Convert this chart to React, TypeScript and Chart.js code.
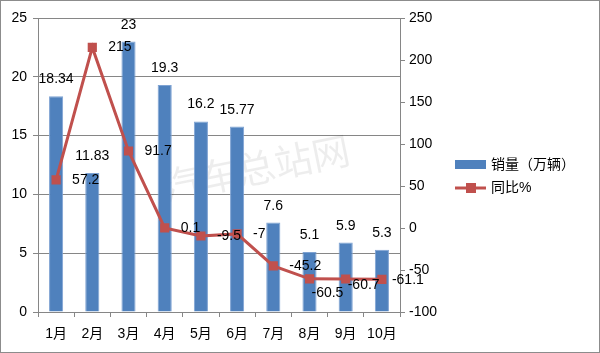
import React, { useEffect, useRef } from "react";
import { Chart, registerables } from "chart.js";

Chart.register(...registerables);

const categories = ["1月", "2月", "3月", "4月", "5月", "6月", "7月", "8月", "9月", "10月"];
const sales = [18.34, 11.83, 23, 19.3, 16.2, 15.77, 7.6, 5.1, 5.9, 5.3];
const yoy = [57.2, 215, 91.7, 0.1, -9.5, -7, -45.2, -60.5, -60.7, -61.1];
const salesLabel = "销量（万辆）";
const yoyLabel = "同比%";
const watermark = "汽车总站网";

const BAR = "#4F81BD";
const LINE = "#C0504D";
const GRID = "#868686";
const FONT = "'Liberation Sans', 'Noto Sans CJK SC', sans-serif";

// label placement tweaks for the last crowded points (dx, dy)
function lineLabelOffset(i: number): [number, number] {
  if (i === 7) return [2, 14];
  if (i === 8) return [2, 6];
  if (i === 9) return [10, 1];
  return [16, 0];
}

const customPlugin = {
  id: "custom",
  beforeDatasetsDraw(chart: any) {
    const ctx = chart.ctx;
    ctx.save();
    ctx.translate(256, 168);
    ctx.rotate(-0.2);
    ctx.font = "38px 'Noto Sans CJK SC'";
    ctx.fillStyle = "rgba(0,0,0,0.07)";
    ctx.textAlign = "center";
    ctx.textBaseline = "middle";
    ctx.fillText(watermark, 0, 0);
    ctx.restore();
  },
  afterDatasetsDraw(chart: any) {
    const ctx = chart.ctx;
    ctx.save();
    ctx.font = "14px " + FONT;
    ctx.fillStyle = "#000";
    const barMeta = chart.getDatasetMeta(0);
    barMeta.data.forEach((el: any, i: number) => {
      ctx.textAlign = "center";
      ctx.textBaseline = "alphabetic";
      ctx.fillText(String(sales[i]), el.x, el.y - 13);
    });
    const lineMeta = chart.getDatasetMeta(1);
    lineMeta.data.forEach((el: any, i: number) => {
      const [dx, dy] = lineLabelOffset(i);
      ctx.textAlign = "left";
      ctx.textBaseline = "middle";
      ctx.fillText(String(yoy[i]), el.x + dx, el.y + dy);
    });
    ctx.restore();
  },
  afterDraw(chart: any) {
    const ctx = chart.ctx;
    ctx.save();
    ctx.strokeStyle = "#8C8C8C";
    ctx.lineWidth = 1;
    ctx.strokeRect(0.5, 0.5, 599, 352);
    ctx.fillStyle = BAR;
    ctx.fillRect(455, 160, 31, 9);
    ctx.strokeStyle = LINE;
    ctx.lineWidth = 3;
    ctx.beginPath();
    ctx.moveTo(455, 188);
    ctx.lineTo(486, 188);
    ctx.stroke();
    ctx.fillStyle = LINE;
    ctx.fillRect(466, 183, 10, 10);
    ctx.fillStyle = "#000";
    ctx.font = "14px " + FONT;
    ctx.textAlign = "left";
    ctx.textBaseline = "middle";
    ctx.fillText(salesLabel, 491, 165);
    ctx.fillText(yoyLabel, 491, 188);
    ctx.restore();
  },
};

export default function App() {
  const ref = useRef<HTMLCanvasElement>(null);
  useEffect(() => {
    document.body.style.margin = "0";
    const chart = new Chart(ref.current!, {
      type: "bar",
      data: {
        labels: categories,
        datasets: [
          {
            type: "bar",
            label: salesLabel,
            data: sales,
            backgroundColor: BAR,
            borderColor: "#7FA3D3",
            borderWidth: 1,
            barPercentage: 0.39,
            categoryPercentage: 1,
            yAxisID: "y",
            order: 2,
          },
          {
            type: "line",
            label: yoyLabel,
            data: yoy,
            borderColor: LINE,
            backgroundColor: LINE,
            borderWidth: 3,
            pointStyle: "rect",
            pointRadius: 6.5,
            pointBorderWidth: 0,
            pointBackgroundColor: LINE,
            yAxisID: "y1",
            order: 1,
          } as any,
        ],
      },
      options: {
        animation: false,
        responsive: false,
        layout: { padding: { top: 18, left: 0, right: 0, bottom: 0 } },
        plugins: { legend: { display: false }, tooltip: { enabled: false } },
        scales: {
          x: {
            grid: { offset: true, drawOnChartArea: false, drawTicks: true, tickLength: 5, color: GRID },
            border: { color: GRID },
            ticks: { color: "#000", font: { size: 14, family: FONT }, padding: 9, maxRotation: 0 },
            afterFit(s: any) { s.height = 41; },
          },
          y: {
            position: "left",
            min: 0,
            max: 25,
            ticks: { stepSize: 5, color: "#000", font: { size: 14, family: FONT }, padding: 6 },
            grid: { color: GRID, tickLength: 5 },
            border: { color: GRID },
            afterFit(s: any) { s.width = 38; },
          },
          y1: {
            position: "right",
            min: -100,
            max: 250,
            ticks: { stepSize: 50, color: "#000", font: { size: 14, family: FONT }, padding: 4 },
            grid: { drawOnChartArea: false, color: GRID, tickLength: 5 },
            border: { color: GRID },
            afterFit(s: any) { s.width = 200; },
          },
        },
      },
      plugins: [customPlugin],
    });
    return () => chart.destroy();
  }, []);
  return (
    <div style={{ position: "absolute", left: 0, top: 0, width: 600, height: 353 }}>
      <canvas ref={ref} width={600} height={353} />
    </div>
  );
}
